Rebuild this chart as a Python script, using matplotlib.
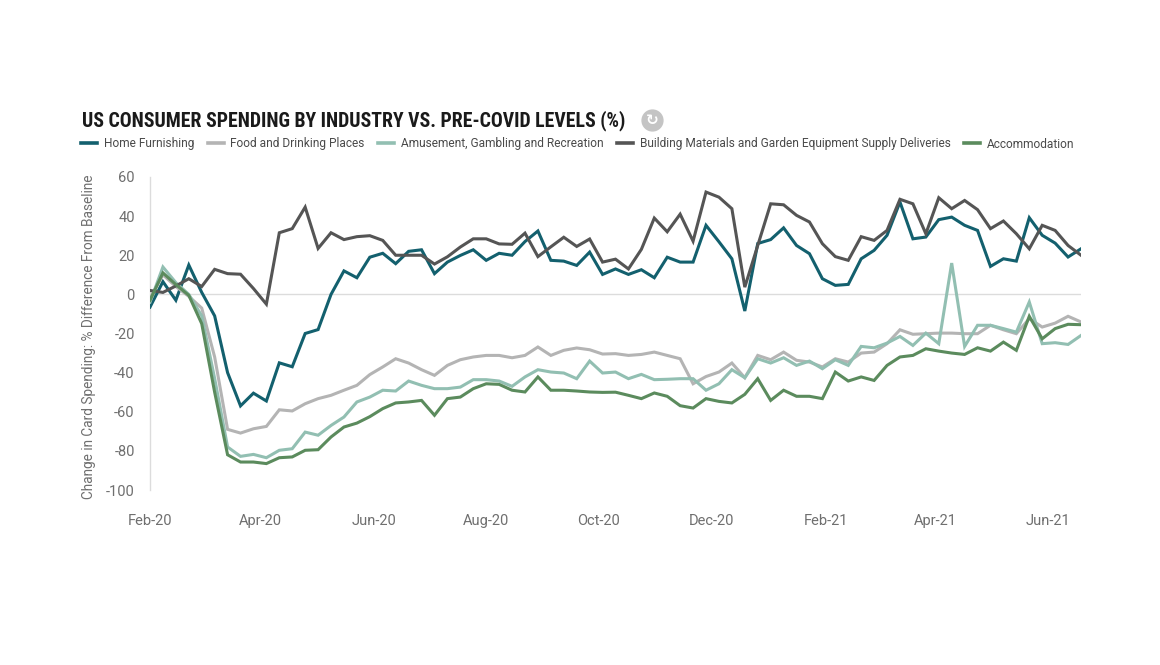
import matplotlib
matplotlib.use("Agg")
import matplotlib.pyplot as plt
import matplotlib.dates as mdates
from matplotlib.lines import Line2D
import pandas as pd

plt.rcParams['axes.unicode_minus'] = False
plt.rcParams['font.family'] = ['Roboto', 'DejaVu Sans']

# ---------------- data ----------------
start_date = "2020-02-01"
n_weeks = 73
series_names = ["Home Furnishing", "Food and Drinking Places",
                "Amusement, Gambling and Recreation",
                "Building Materials and Garden Equipment Supply Deliveries",
                "Accommodation"]

home_furnishing = [-6.5, 6.5, -3, 15, 1, -11, -40, -57, -50.5, -54.5,
                   -35, -37, -20, -18, 0, 12, 8.5, 19, 21, 15.7,
                   22, 22.8, 10.6, 16.5, 19.9, 22.8, 17.4, 21, 20, 27,
                   32.4, 17.4, 17, 14.8, 21.6, 10.2, 13, 10.2, 12.6, 8.5,
                   19, 16.5, 16.5, 35.3, 26.9, 18.2, -8.5, 26, 28, 34,
                   25, 20.8, 8, 4.6, 5.1, 18.2, 22.5, 30.2, 47.2, 28.4,
                   29.3, 38.2, 39.5, 35.3, 32.7, 14.3, 18.2, 17, 39.2, 30.2,
                   26.2, 19.1, 23.3]

food_drinking = [-2, 10, 4, -1, -7, -32, -69, -70.9, -68.7, -67.5,
                 -59, -59.6, -55.9, -53.3, -51.6, -49, -46.5, -41, -37.1, -32.9,
                 -35.1, -38.5, -41.4, -36.3, -33.4, -32, -31.2, -31.2, -32.4, -31.2,
                 -26.9, -31.2, -28.6, -27.4, -28.3, -30.5, -30.3, -31.2, -30.7, -29.5,
                 -31.2, -32.9, -45.7, -42, -39.7, -35.1, -42.6, -31.2, -33.4, -29.5,
                 -33.7, -34.6, -37.1, -32.9, -34.6, -30, -29.5, -25.2, -18.1, -20.4,
                 -20.1, -19.8, -19.8, -20.1, -20.1, -15.8, -18.1, -20.1, -12.4, -16.7,
                 -14.7, -11.2, -14.1]

amusement = [-4, 14, 6, 0, -11, -43, -78, -82.8, -81.8, -83.5,
             -79.7, -78.9, -70.4, -72, -67, -62.7, -55, -52.5, -49, -49.4,
             -44.3, -46.5, -48.2, -48.2, -47.4, -43.6, -43.6, -44.3, -47, -42.2,
             -38.5, -39.7, -40.2, -43.1, -34.1, -40.2, -39.7, -43.1, -40.9, -43.6,
             -43.4, -43.1, -43.1, -49, -45.7, -38.5, -42.6, -32.9, -35.1, -32.4,
             -36.3, -34.1, -38, -33.4, -36.3, -26.6, -27.3, -24.9, -21.5, -26.1,
             -19.8, -25.2, 16, -26.6, -15.8, -15.8, -17.5, -19.3, -3.9, -25.2,
             -24.7, -25.6, -21]

building_materials = [2, 1, 4.3, 8, 4, 12.8, 10.6, 10.3, 3, -5,
                      31.5, 33.6, 44.6, 23.5, 31.5, 28, 29.5, 30, 27.6, 20,
                      20, 20, 15.5, 19.2, 24.2, 28.4, 28.4, 25.8, 25.6, 31.3,
                      19.3, 24.3, 29.2, 24.5, 28.3, 16.5, 18, 13, 23, 39,
                      32, 41, 27.2, 52.3, 49.7, 43.8, 3.7, 25, 46.3, 45.8,
                      40.4, 37, 25.9, 19.3, 17.4, 29.5, 27.6, 32.7, 48.6, 46.3,
                      31, 49.4, 43.8, 48, 43.3, 33.6, 37.5, 31, 23.3, 35.3,
                      32.7, 25, 20]

accommodation = [-3, 11, 5, -0.5, -15, -50, -82, -85.7, -85.7, -86.5,
                 -83.5, -83.1, -79.7, -79.4, -72.9, -67.8, -65.8, -62.5, -58.4, -55.5,
                 -55, -54.2, -61.8, -53.3, -52.5, -48.2, -45.7, -46, -49, -49.9,
                 -42.2, -49, -49, -49.4, -49.9, -50.1, -50, -51.6, -53.3, -50.4,
                 -52.1, -56.9, -58.1, -53.3, -54.7, -55.5, -51.1, -43.1, -54.2, -49,
                 -52.1, -52.1, -53.3, -39.7, -44.3, -42.2, -44, -36.3, -32, -31.2,
                 -27.8, -29, -30, -30.7, -27.3, -29, -24.4, -28.6, -11.2, -22.7,
                 -17.5, -15.3, -15.5]

y_ticks = [-100, -80, -60, -40, -20, 0, 20, 40, 60]
title_text = "US CONSUMER SPENDING BY INDUSTRY VS. PRE-COVID LEVELS (%)"
y_label = "Change in Card Spending: % Difference From Baseline"

colors = ["#13606e", "#b4b4b4", "#92bfb2", "#555555", "#5b8b5d"]

# ---------------- figure ----------------
dates = pd.date_range(start_date, periods=n_weeks, freq="7D")
all_series = [home_furnishing, food_drinking, amusement, building_materials, accommodation]

fig = plt.figure(figsize=(11.6, 6.65), dpi=100)
ax = fig.add_axes([150 / 1160, 1 - 490 / 665, (1081 - 150) / 1160, 313 / 665])

for name, vals, col in zip(series_names, all_series, colors):
    ax.plot(dates, vals, color=col, lw=2.2, label=name, solid_joinstyle='miter', zorder=3)

ax.axhline(0, color="#dcdcdc", lw=1.0, zorder=1)
ax.set_ylim(-100, 60)
ax.set_xlim(dates[0], dates[-1])
ax.set_yticks(y_ticks)
ax.set_yticklabels([str(t) for t in y_ticks])
ax.xaxis.set_major_locator(mdates.MonthLocator(bymonth=[2, 4, 6, 8, 10, 12]))
ax.xaxis.set_major_formatter(mdates.DateFormatter("%b-%y"))

for s in ["top", "right", "bottom"]:
    ax.spines[s].set_visible(False)
ax.spines["left"].set_color("#dcdcdc")
ax.spines["left"].set_linewidth(1.0)
ax.tick_params(axis="both", length=0, colors="#6f6f6f", labelsize=10.5)
ax.tick_params(axis="y", pad=11)
ax.tick_params(axis="x", pad=17)

ax.set_ylabel(y_label, color="#6f6f6f", fontsize=9.8)
ax.yaxis.set_label_coords(-0.058, 0.49)

# title
fig.text(82 / 1160, 1 - 121 / 665, title_text, fontsize=14.2, fontweight="bold",
         color="#1a1a1a", va="center", ha="left",
         family=['Liberation Sans Narrow', 'Roboto Condensed', 'Roboto', 'DejaVu Sans'])

# refresh icon
fig.add_artist(Line2D([652 / 1160], [1 - 120 / 665], marker="o", markersize=15,
                      color="#c4c4c4", transform=fig.transFigure))
fig.text(652 / 1160, 1 - 120 / 665, "\u21bb", color="white", fontsize=11,
         ha="center", va="center", fontweight="bold", family=["DejaVu Sans"])

# legend
handles, labels = ax.get_legend_handles_labels()
leg = fig.legend(handles, labels, loc="center left", ncol=5,
                 bbox_to_anchor=(81 / 1160, 1 - 144 / 665), frameon=False,
                 fontsize=8.55, handlelength=1.35, handletextpad=0.55,
                 columnspacing=1.15, borderaxespad=0, borderpad=0)
for t in leg.get_texts():
    t.set_color("#4a4a4a")
for h in leg.legend_handles:
    h.set_linewidth(2.6)

fig.savefig("out.png", dpi=100, facecolor="white")
